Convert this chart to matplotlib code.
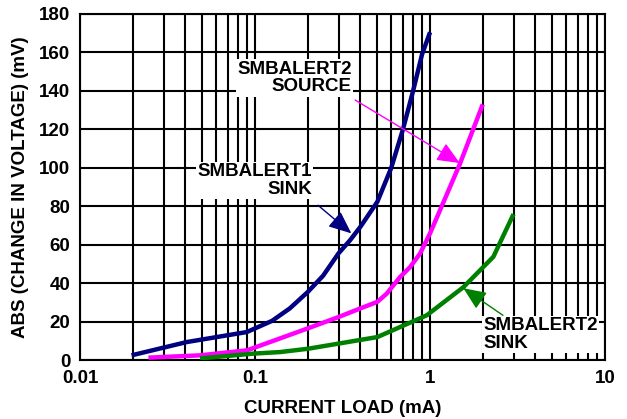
import matplotlib
matplotlib.use("Agg")
import matplotlib.pyplot as plt
from matplotlib.ticker import LogLocator, FixedLocator, NullFormatter

plt.rcParams['font.family'] = ['Liberation Sans', 'DejaVu Sans']
plt.rcParams['font.weight'] = 'bold'

# current load (mA) vs |change in voltage| (mV)
sink1_x = [0.0197, 0.0407, 0.0897, 0.125, 0.158, 0.2, 0.245, 0.3, 0.349, 0.4, 0.5, 0.6, 0.7, 0.8, 0.9, 1.0]
sink1_y = [2.6, 9.5, 14.7, 20.5, 27, 35.5, 44, 55.6, 62.4, 69.4, 82.4, 100, 120, 140, 159, 170.5]

source2_x = [0.0246, 0.0485, 0.09, 0.139, 0.2, 0.3, 0.4, 0.5, 0.566, 0.674, 0.77, 0.877, 1.0, 1.14, 1.48, 2.0]
source2_y = [1.4, 2.6, 5.2, 11.4, 16.6, 22.5, 27, 30.4, 34.7, 43.3, 48.5, 55.5, 66, 78, 102, 133]

sink2_x = [0.0485, 0.098, 0.139, 0.2, 0.3, 0.5, 0.674, 0.957, 1.55, 2.3, 3.0]
sink2_y = [1, 3.5, 4.3, 6, 8.7, 12.1, 17.3, 23.4, 38, 53.8, 76]

x_ticks = [0.01, 0.1, 1, 10]
x_ticklabels = ['0.01', '0.1', '1', '10']
y_ticks = [0, 20, 40, 60, 80, 100, 120, 140, 160, 180]

fig = plt.figure(figsize=(6.27, 4.19), dpi=100)
ax = fig.add_axes([0.1276, 0.1400, 0.8374, 0.8266])

line_kw = dict(lw=3.2, solid_capstyle='butt', solid_joinstyle='round', zorder=3)
ax.plot(sink1_x, sink1_y, color='#000080', **line_kw)
ax.plot(source2_x, source2_y, color='#FF00FF', **line_kw)
ax.plot(sink2_x, sink2_y, color='#008000', **line_kw)

ax.set_xscale('log')
ax.set_xlim(0.01, 10)
ax.set_ylim(0, 180)
ax.xaxis.set_major_locator(FixedLocator(x_ticks))
ax.set_xticklabels(x_ticklabels)
ax.xaxis.set_minor_locator(LogLocator(base=10, subs=range(2, 10)))
ax.xaxis.set_minor_formatter(NullFormatter())
ax.set_yticks(y_ticks)

ax.grid(True, which='both', color='black', lw=1.5)
ax.tick_params(which='both', length=0, labelsize=13.5, pad=7)
for lab in ax.get_xticklabels() + ax.get_yticklabels():
    lab.set_fontweight('bold')
for s in ax.spines.values():
    s.set_linewidth(1.5)

ax.set_xlabel('CURRENT LOAD (mA)', fontsize=13.5, fontweight='bold', labelpad=9)
ax.set_ylabel('ABS (CHANGE IN VOLTAGE) (mV)', fontsize=13.5, fontweight='bold', labelpad=7)

box = dict(facecolor='white', edgecolor='none', pad=1)
head = '-|>,head_length=0.7,head_width=0.3'

ax.text(0.358, 146.7, 'SMBALERT2\nSOURCE', ha='right', va='center', multialignment='right',
        fontsize=13.5, fontweight='bold', linespacing=1.05, bbox=box, zorder=4)
ax.annotate('', xy=(1.48, 102.5), xytext=(0.373, 135.3),
            arrowprops=dict(arrowstyle=head, color='#FF00FF', lw=1, mutation_scale=20,
                            shrinkA=0, shrinkB=0), zorder=4)

ax.text(0.212, 93.6, 'SMBALERT1\nSINK', ha='right', va='center', multialignment='right',
        fontsize=13.5, fontweight='bold', linespacing=1.05, bbox=box, zorder=4)
ax.annotate('', xy=(0.355, 66), xytext=(0.229, 80.6),
            arrowprops=dict(arrowstyle=head, color='#000080', lw=1, mutation_scale=20,
                            shrinkA=0, shrinkB=0), zorder=4)

ax.text(2.01, 13.5, 'SMBALERT2\nSINK', ha='left', va='center', multialignment='left',
        fontsize=13.5, fontweight='bold', linespacing=1.05, bbox=box, zorder=4)
ax.annotate('', xy=(1.55, 37.5), xytext=(2.61, 23.4),
            arrowprops=dict(arrowstyle=head, color='#008000', lw=1, mutation_scale=20,
                            shrinkA=0, shrinkB=0), zorder=4)

fig.savefig('out.png', dpi=100)
